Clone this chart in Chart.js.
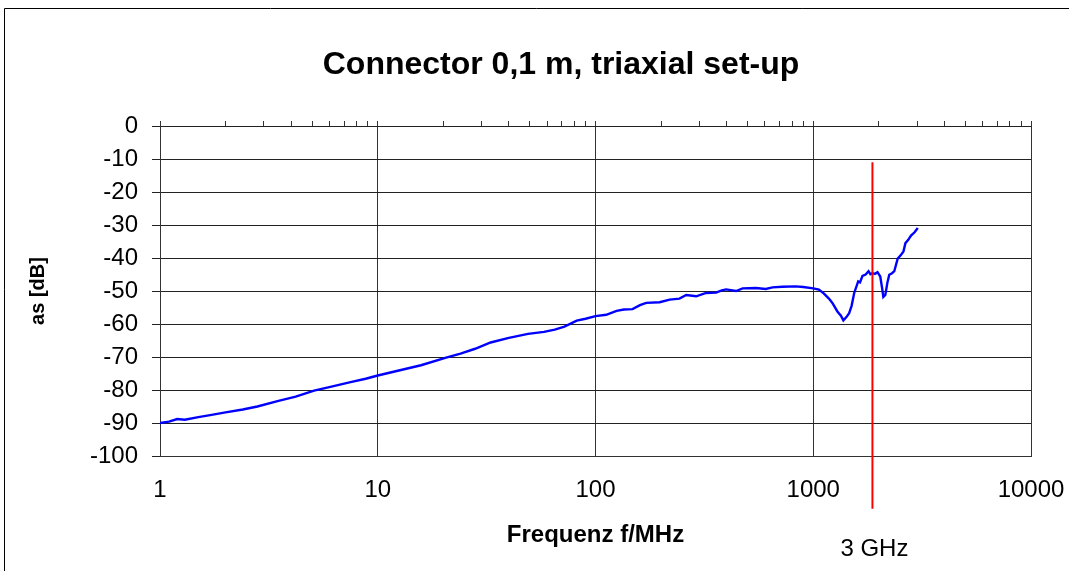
<!DOCTYPE html>
<html>
<head>
<meta charset="utf-8">
<script src="https://cdn.jsdelivr.net/npm/chart.js@4/dist/chart.umd.min.js"></script>
<style>
html,body{margin:0;padding:0;background:#fff;}
#wrap{width:1069px;height:571px;position:relative;}
</style>
</head>
<body>
<div id="wrap"><canvas id="c" width="1069" height="571"></canvas></div>
<script>
// ---- chart data ----
const chartTitle = 'Connector 0,1 m, triaxial set-up';
const xAxisTitle = 'Frequenz f/MHz';
const yAxisTitle = 'as [dB]';

const freqMHz = [
  1, 1.1, 1.2, 1.3, 1.5, 1.7, 2.0, 2.4, 2.8, 3.5,
  4.2, 5.1, 6.2, 7.5, 8.8, 10, 12.5, 15.8, 20.6, 24,
  28, 33, 40, 49, 58, 65, 72, 82, 90, 100,
  112, 125, 135, 148, 160, 171, 197, 219, 243, 261,
  290, 322, 358, 380, 398, 442, 474, 545, 605, 650,
  721, 830, 900, 1000, 1062, 1120, 1180, 1224, 1291, 1340,
  1375, 1420, 1462, 1500, 1542, 1608, 1640, 1683, 1740, 1794,
  1830, 1872, 1920, 1973, 2031, 2070, 2098, 2143, 2190, 2234,
  2300, 2356, 2442, 2520, 2596, 2650, 2730, 2812, 2920, 3020
];
const attenuationDb = [
  -90.0, -89.6, -88.8, -89.0, -88.2, -87.6, -86.8, -85.9, -85.0, -83.3,
  -82.0, -80.2, -78.9, -77.6, -76.6, -75.6, -74.1, -72.5, -70.2, -69.0,
  -67.5, -65.6, -64.2, -63.0, -62.4, -61.7, -60.8, -59.0, -58.4, -57.6,
  -57.2, -56.0, -55.6, -55.5, -54.3, -53.6, -53.4, -52.6, -52.3, -51.2,
  -51.6, -50.6, -50.5, -49.8, -49.5, -50.0, -49.2, -49.1, -49.4, -48.9,
  -48.7, -48.6, -48.8, -49.2, -49.6, -50.8, -52.3, -53.6, -56.2, -57.5,
  -58.9, -57.9, -56.7, -54.5, -50.6, -47.1, -47.4, -45.4, -45.0, -44.0,
  -44.9, -44.6, -44.8, -44.3, -45.6, -49.0, -51.8, -51.2, -47.5, -45.1,
  -44.6, -44.0, -40.2, -39.2, -38.0, -35.5, -34.5, -33.2, -32.2, -30.9
];

const xTickValues = [1, 10, 100, 1000, 10000];
const xTickLabels = ['1', '10', '100', '1000', '10000'];
const xMinorMultipliers = [1, 2, 3, 4, 5, 6, 7, 8, 9];
const yTickValues = [0, -10, -20, -30, -40, -50, -60, -70, -80, -90, -100];
const yTickLabels = ['0', '-10', '-20', '-30', '-40', '-50', '-60', '-70', '-80', '-90', '-100'];

const markerFreq = [1870, 1870];
const markerDb = [-11, -116];
const markerLabel = '3 GHz';

// ---- derived ----
const xMinorTicks = [];
xTickValues.forEach(d => xMinorMultipliers.forEach(m => { if (d * m <= 10000) xMinorTicks.push(d * m); }));

const FONT = "'Liberation Sans', Arial, Helvetica, sans-serif";

const decorPlugin = {
  id: 'decor',
  beforeDraw(chart) {
    const c = chart.ctx;
    c.save();
    c.fillStyle = '#fff';
    c.fillRect(0, 0, chart.width, chart.height);
    c.strokeStyle = '#000';
    c.lineWidth = 1;
    c.beginPath();
    c.moveTo(4.5, chart.height);
    c.lineTo(4.5, 8.5);
    c.lineTo(chart.width, 8.5);
    c.stroke();
    c.restore();
  },
  afterDraw(chart) {
    const c = chart.ctx;
    const xs = chart.scales.x;
    const ys = chart.scales.y;
    c.save();
    c.fillStyle = '#000';
    c.textAlign = 'center';
    c.textBaseline = 'alphabetic';
    c.font = 'bold 32px ' + FONT;
    c.fillText(chartTitle, 561, 74);
    c.font = '24px ' + FONT;
    c.fillText(markerLabel, xs.getPixelForValue(markerFreq[0]) + 2, ys.getPixelForValue(-100) + 100);
    c.restore();
  }
};

const noSidePad = s => { s.paddingLeft = 0; s.paddingRight = 0; };

new Chart(document.getElementById('c'), {
  type: 'line',
  data: {
    datasets: [
      {
        label: markerLabel,
        data: markerFreq.map((f, i) => ({ x: f, y: markerDb[i] })),
        borderColor: '#ff0000',
        borderWidth: 2,
        pointRadius: 0,
        clip: false,
        xAxisID: 'x',
        yAxisID: 'y'
      },
      {
        label: 'as',
        data: freqMHz.map((f, i) => ({ x: f, y: attenuationDb[i] })),
        borderColor: '#0000ff',
        borderWidth: 2.4,
        pointRadius: 0,
        tension: 0,
        fill: false,
        xAxisID: 'x',
        yAxisID: 'y'
      }
    ]
  },
  options: {
    responsive: false,
    animation: false,
    devicePixelRatio: 1,
    layout: { padding: { top: 126, left: 0, right: 38, bottom: 0 } },
    plugins: {
      legend: { display: false },
      title: { display: false },
      tooltip: { enabled: false }
    },
    scales: {
      x: {
        type: 'logarithmic',
        position: 'bottom',
        min: 1,
        max: 10000,
        afterBuildTicks: s => { s.ticks = xTickValues.map(v => ({ value: v })); },
        afterFit: s => { s.height = 115; noSidePad(s); },
        ticks: {
          callback: (v, i) => xTickLabels[i],
          font: { family: FONT, size: 24 },
          color: '#000',
          padding: 20,
          maxRotation: 0,
          autoSkip: false
        },
        grid: { color: '#333', lineWidth: 1, drawTicks: false },
        border: { display: true, color: '#333' },
        title: {
          display: true,
          text: xAxisTitle,
          font: { family: FONT, size: 24, weight: 'bold' },
          color: '#000',
          padding: { top: 0, bottom: 21 }
        }
      },
      xTop: {
        type: 'logarithmic',
        position: 'top',
        min: 1,
        max: 10000,
        afterBuildTicks: s => { s.ticks = xMinorTicks.map(v => ({ value: v })); },
        afterFit: s => { s.height = 0; noSidePad(s); },
        ticks: { display: false },
        grid: { drawOnChartArea: false, drawTicks: true, tickLength: 5, color: '#333' },
        border: { display: false }
      },
      y: {
        min: -100,
        max: 0,
        afterBuildTicks: s => { s.ticks = yTickValues.map(v => ({ value: v })); },
        afterFit: s => { s.width = 160; s.paddingTop = 0; s.paddingBottom = 0; },
        ticks: {
          callback: (v) => yTickLabels[yTickValues.indexOf(v)],
          font: { family: FONT, size: 24 },
          color: '#000',
          padding: 14
        },
        grid: { color: '#222', lineWidth: 1, tickLength: 8 },
        border: { display: true, color: '#333' },
        title: {
          display: true,
          text: yAxisTitle,
          font: { family: FONT, size: 20, weight: 'bold' },
          color: '#000',
          padding: { top: 26, bottom: 0 }
        }
      }
    }
  },
  plugins: [decorPlugin]
});
</script>
</body>
</html>
